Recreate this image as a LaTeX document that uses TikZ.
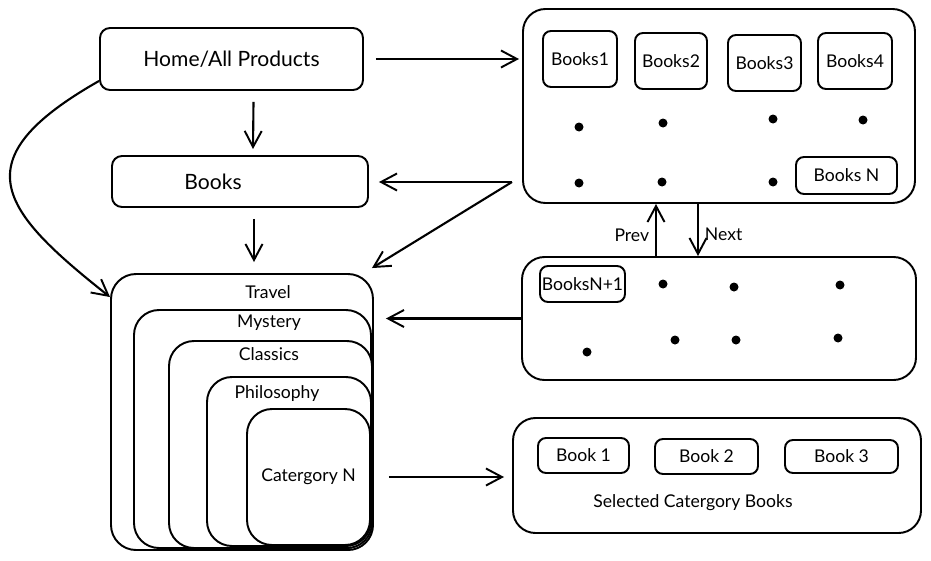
\documentclass[tikz,border=0pt]{standalone}
\usepackage{fontspec}
\setmainfont{Lato}
\usetikzlibrary{arrows.meta,calc}

\tikzset{
  box/.style={rectangle, draw, line width=1.1pt, rounded corners=.2cm, inner sep=0},
  bigbox/.style={box, rounded corners=.45cm},
  catbox/.style={box, rounded corners=.5cm, fill=white},
  smallbox/.style={box, rounded corners=.16cm, font=\normalsize},
  arr/.style={-{Straight Barb[length=.32cm,width=.34cm,line width=1.1pt]}, line width=1.2pt},
}

\begin{document}
\begin{tikzpicture}

\useasboundingbox (0cm,0cm) rectangle (18.62cm,-11.2cm);

%--------------------------------------------------
\node (home) at(4.63cm,-1.18cm) [box, minimum width=5.26cm, minimum height=1.24cm, font=\large] {Home/All Products};
\node (books) at(4.8cm,-3.63cm) [box, minimum width=5.12cm, minimum height=1.02cm, label={[xshift=-.54cm,font=\large]center:Books}] {};

%--------------------------------------------------
\node (catalog) at(14.38cm,-2.12cm) [bigbox, minimum width=7.84cm, minimum height=3.88cm] {};
\node (books1) at(11.6cm,-1.18cm) [smallbox, minimum width=1.48cm, minimum height=1.12cm] {Books1};
\node (books2) at(13.42cm,-1.22cm) [smallbox, minimum width=1.44cm, minimum height=1.12cm] {Books2};
\node (books3) at(15.29cm,-1.26cm) [smallbox, minimum width=1.46cm, minimum height=1.12cm] {Books3};
\node (books4) at(17.1cm,-1.22cm) [smallbox, minimum width=1.48cm, minimum height=1.12cm] {Books4};
\node (booksN) at(16.93cm,-3.51cm) [smallbox, minimum width=2.02cm, minimum height=.74cm] {Books N};

\fill (11.58cm,-2.54cm) circle (.09cm);
\fill (13.26cm,-2.46cm) circle (.09cm);
\fill (15.46cm,-2.38cm) circle (.09cm);
\fill (17.26cm,-2.4cm) circle (.09cm);
\fill (11.58cm,-3.66cm) circle (.09cm);
\fill (13.24cm,-3.64cm) circle (.09cm);
\fill (15.46cm,-3.64cm) circle (.09cm);

%--------------------------------------------------
\node (nextpage) at(14.38cm,-6.37cm) [bigbox, minimum width=7.88cm, minimum height=2.46cm] {};
\node (booksN1) at(11.65cm,-5.68cm) [smallbox, minimum width=1.7cm, minimum height=.72cm] {BooksN+1};

\fill (13.26cm,-5.68cm) circle (.09cm);
\fill (14.68cm,-5.74cm) circle (.09cm);
\fill (16.8cm,-5.7cm) circle (.09cm);
\fill (11.74cm,-7.04cm) circle (.09cm);
\fill (13.5cm,-6.8cm) circle (.09cm);
\fill (14.72cm,-6.8cm) circle (.09cm);
\fill (16.76cm,-6.76cm) circle (.09cm);

%--------------------------------------------------
\node (selected) at(14.34cm,-9.51cm) [bigbox, minimum width=8.16cm, minimum height=2.3cm] {};
\node (book1) at(11.67cm,-9.11cm) [smallbox, minimum width=1.82cm, minimum height=.7cm] {Book 1};
\node (book2) at(14.13cm,-9.13cm) [smallbox, minimum width=2.06cm, minimum height=.7cm] {Book 2};
\node (book3) at(16.83cm,-9.13cm) [smallbox, minimum width=2.26cm, minimum height=.66cm] {Book 3};
\node (selectedtext) at(13.86cm,-10.06cm) {Selected Catergory Books};

%--------------------------------------------------
\node (travel) at(4.84cm,-8.24cm) [catbox, minimum width=5.24cm, minimum height=5.52cm] {};
\node (mystery) at(5.05cm,-8.58cm) [catbox, minimum width=4.74cm, minimum height=4.76cm] {};
\node (classics) at(5.41cm,-8.89cm) [catbox, minimum width=4.06cm, minimum height=4.14cm] {};
\node (philosophy) at(5.78cm,-9.23cm) [catbox, minimum width=3.28cm, minimum height=3.38cm] {};
\node (categoryN) at(6.17cm,-9.54cm) [catbox, minimum width=2.46cm, minimum height=2.72cm] {Catergory N};

\node (travelText) at(5.36cm,-5.84cm) {Travel};
\node (mysteryText) at(5.38cm,-6.46cm) {Mystery};
\node (classicsText) at(5.38cm,-7.08cm) {Classics};
\node (philosophyText) at(5.54cm,-7.88cm) {Philosophy};

%--------------------------------------------------
\draw [arr, shorten <=.24cm, shorten >=.06cm] (home.east) -- (home.east -| catalog.west);
\draw [arr] ([xshift=.44cm,yshift=-.22cm]home.south) -- ([xshift=.26cm,yshift=.12cm]books.north);
\draw [arr] ([xshift=.28cm,yshift=-.22cm]books.south) -- ([xshift=.24cm,yshift=.22cm]travel.north);

\coordinate (fork) at (10.24cm,-3.64cm);
\draw [arr, shorten >=.2cm] (fork) -- (fork -| books.east);
\draw [arr] (fork) -- ([xshift=-.04cm,yshift=.1cm]travel.north east);

\draw [arr, shorten >=.24cm] (nextpage.west) -- (nextpage.west -| travel.east);

\draw [arr] ([xshift=-1.26cm]nextpage.north) -- node[left, yshift=-.1cm] {Prev} ([xshift=-1.26cm]catalog.south);
\draw [arr] ([xshift=-.42cm]catalog.south) -- node[right, yshift=-.08cm] {Next} ([xshift=-.42cm]nextpage.north);

\draw [arr, shorten <=.36cm, shorten >=.16cm] (categoryN.east) -- (categoryN.east -| selected.west);

\draw [arr] ([yshift=.2cm]home.south west) .. controls (-.8cm,-3.2cm) and (0cm,-4.2cm) .. ([yshift=-.48cm]travel.north west);

\end{tikzpicture}
\end{document}
